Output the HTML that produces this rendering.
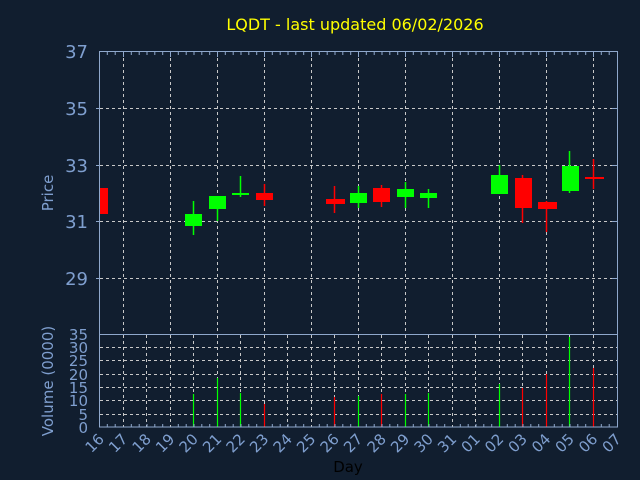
<!DOCTYPE html>
<html><head><meta charset="utf-8"><style>
html,body{margin:0;padding:0;background:#111e2f;}
svg{display:block;font-family:"DejaVu Sans","Liberation Sans",sans-serif;}
</style></head><body>
<svg width="640" height="480" viewBox="0 0 640 480" xmlns="http://www.w3.org/2000/svg">
<rect width="640" height="480" fill="#111e2f"/>
<text x="355" y="30" fill="#ffff00" font-size="16" text-anchor="middle">LQDT - last updated 06/02/2026</text>
<g stroke="#c8c8c8" stroke-width="1" stroke-dasharray="3,3" fill="none">
<path d="M100 108.5H617M100 165.5H617M100 221.5H617M100 278.5H617"/>
<path d="M123.5 52V334M170.5 52V334M217.5 52V334M264.5 52V334M311.5 52V334M358.5 52V334M405.5 52V334M452.5 52V334M499.5 52V334M546.5 52V334M593.5 52V334"/>
<path d="M100 347.5H617M100 360.5H617M100 374.5H617M100 387.5H617M100 400.5H617M100 414.5H617"/>
<path d="M123.5 335V427M146.5 335V427M170.5 335V427M193.5 335V427M217.5 335V427M240.5 335V427M264.5 335V427M287.5 335V427M311.5 335V427M334.5 335V427M358.5 335V427M381.5 335V427M405.5 335V427M428.5 335V427M452.5 335V427M475.5 335V427M499.5 335V427M522.5 335V427M546.5 335V427M569.5 335V427M593.5 335V427"/>
</g>
<g id="cd">
<rect x="99" y="188" width="9" height="26" fill="#ff0000"/>
<g stroke="#00ff00" stroke-width="1.5"><path d="M193.5 201V235M217.5 209V221M240.5 176V197M358.5 186V208M405.5 182V208M428.5 189V208M499.5 165V194M569.5 151V193"/></g>
<g stroke="#ff0000" stroke-width="1.5"><path d="M264.5 184V206M334.5 186V213M381.5 185V207M522.5 175V223M546.5 201V232M593.5 159V189"/></g>
<g fill="#00ff00">
<rect x="185" y="214" width="17" height="12"/>
<rect x="209" y="196" width="17" height="13"/>
<rect x="232" y="193" width="17" height="2"/>
<rect x="350" y="193" width="17" height="10"/>
<rect x="397" y="189" width="17" height="8"/>
<rect x="420" y="193" width="17" height="5"/>
<rect x="491" y="175" width="17" height="19"/>
<rect x="562" y="166" width="17" height="25"/>
</g>
<g fill="#ff0000">
<rect x="256" y="193" width="17" height="7"/>
<rect x="326" y="199" width="19" height="5"/>
<rect x="373" y="188" width="17" height="14"/>
<rect x="515" y="178" width="17" height="30"/>
<rect x="538" y="202" width="19" height="7"/>
<rect x="585" y="177" width="19" height="2"/>
</g>
</g>
<g stroke-width="1.2">
<path stroke="#00ff00" d="M193.5 427V394M217.5 427V378M240.5 427V393M358.5 427V396M405.5 427V394M428.5 427V393M499.5 427V384M569.5 427V337"/>
<path stroke="#ff0000" d="M264.5 427V404M334.5 427V397M381.5 427V394M522.5 427V388M546.5 427V374M593.5 427V368"/>
</g>
<g stroke="#8fa8cc" fill="none" stroke-width="1">
<rect x="99.5" y="51.5" width="518" height="375.5"/>
<path d="M99.5 334.5H617"/>
</g>
<g stroke="#8fa8cc" stroke-width="1">
<path d="M107.3 52v3M115.2 52v3M131.3 52v3M139.2 52v3M147 52v3M154.8 52v3M162.7 52v3M178.3 52v3M186.2 52v3M194 52v3M201.8 52v3M209.7 52v3M225.3 52v3M233.2 52v3M241 52v3M248.8 52v3M256.7 52v3M272.3 52v3M280.2 52v3M288 52v3M295.8 52v3M303.7 52v3M319.3 52v3M327.2 52v3M335 52v3M342.8 52v3M350.7 52v3M366.3 52v3M374.2 52v3M382 52v3M389.8 52v3M397.7 52v3M413.3 52v3M421.2 52v3M429 52v3M436.8 52v3M444.7 52v3M460.3 52v3M468.2 52v3M476 52v3M483.8 52v3M491.7 52v3M507.3 52v3M515.2 52v3M523 52v3M530.8 52v3M538.7 52v3M554.3 52v3M562.2 52v3M570 52v3M577.8 52v3M585.7 52v3M601.3 52v3M609.2 52v3"/>
<path d="M123.5 52v5M170.5 52v5M217.5 52v5M264.5 52v5M311.5 52v5M358.5 52v5M405.5 52v5M452.5 52v5M499.5 52v5M546.5 52v5M593.5 52v5"/>
<path d="M107.3 427v-3M115.2 427v-3M131.3 427v-3M139.2 427v-3M147 427v-3M154.8 427v-3M162.7 427v-3M178.3 427v-3M186.2 427v-3M194 427v-3M201.8 427v-3M209.7 427v-3M225.3 427v-3M233.2 427v-3M241 427v-3M248.8 427v-3M256.7 427v-3M272.3 427v-3M280.2 427v-3M288 427v-3M295.8 427v-3M303.7 427v-3M319.3 427v-3M327.2 427v-3M335 427v-3M342.8 427v-3M350.7 427v-3M366.3 427v-3M374.2 427v-3M382 427v-3M389.8 427v-3M397.7 427v-3M413.3 427v-3M421.2 427v-3M429 427v-3M436.8 427v-3M444.7 427v-3M460.3 427v-3M468.2 427v-3M476 427v-3M483.8 427v-3M491.7 427v-3M507.3 427v-3M515.2 427v-3M523 427v-3M530.8 427v-3M538.7 427v-3M554.3 427v-3M562.2 427v-3M570 427v-3M577.8 427v-3M585.7 427v-3M601.3 427v-3M609.2 427v-3"/>
<path d="M96 108.5h4M96 165.5h4M96 221.5h4M96 278.5h4M612 108.5h5M612 165.5h5M612 221.5h5M612 278.5h5"/>
</g>
<g fill="#7f9fcf" font-size="18" text-anchor="end">
<text x="88" y="58">37</text><text x="88" y="115">35</text><text x="88" y="172">33</text><text x="88" y="228">31</text><text x="88" y="285">29</text>
</g>
<g fill="#7f9fcf" font-size="15" text-anchor="end">
<text x="88" y="340">35</text><text x="88" y="353">30</text><text x="88" y="366">25</text><text x="88" y="380">20</text><text x="88" y="393">15</text><text x="88" y="406">10</text><text x="88" y="420">5</text><text x="88" y="433">0</text>
</g>
<text transform="translate(53,193) rotate(-90)" fill="#7f9fcf" font-size="15" text-anchor="middle">Price</text>
<text transform="translate(53,381) rotate(-90)" fill="#7f9fcf" font-size="15" text-anchor="middle">Volume (0000)</text>
<g fill="#7f9fcf" font-size="15" text-anchor="end">
<text transform="translate(105,440) rotate(-45)">16</text>
<text transform="translate(128.5,440) rotate(-45)">17</text>
<text transform="translate(152,440) rotate(-45)">18</text>
<text transform="translate(175.5,440) rotate(-45)">19</text>
<text transform="translate(199,440) rotate(-45)">20</text>
<text transform="translate(222.5,440) rotate(-45)">21</text>
<text transform="translate(246,440) rotate(-45)">22</text>
<text transform="translate(269.5,440) rotate(-45)">23</text>
<text transform="translate(293,440) rotate(-45)">24</text>
<text transform="translate(316.5,440) rotate(-45)">25</text>
<text transform="translate(340,440) rotate(-45)">26</text>
<text transform="translate(363.5,440) rotate(-45)">27</text>
<text transform="translate(387,440) rotate(-45)">28</text>
<text transform="translate(410.5,440) rotate(-45)">29</text>
<text transform="translate(434,440) rotate(-45)">30</text>
<text transform="translate(457.5,440) rotate(-45)">31</text>
<text transform="translate(481,440) rotate(-45)">01</text>
<text transform="translate(504.5,440) rotate(-45)">02</text>
<text transform="translate(528,440) rotate(-45)">03</text>
<text transform="translate(551.5,440) rotate(-45)">04</text>
<text transform="translate(575,440) rotate(-45)">05</text>
<text transform="translate(598.5,440) rotate(-45)">06</text>
<text transform="translate(622,440) rotate(-45)">07</text>
</g>
<text x="348" y="472" fill="#000000" font-size="15" text-anchor="middle">Day</text>
</svg>
</body></html>
